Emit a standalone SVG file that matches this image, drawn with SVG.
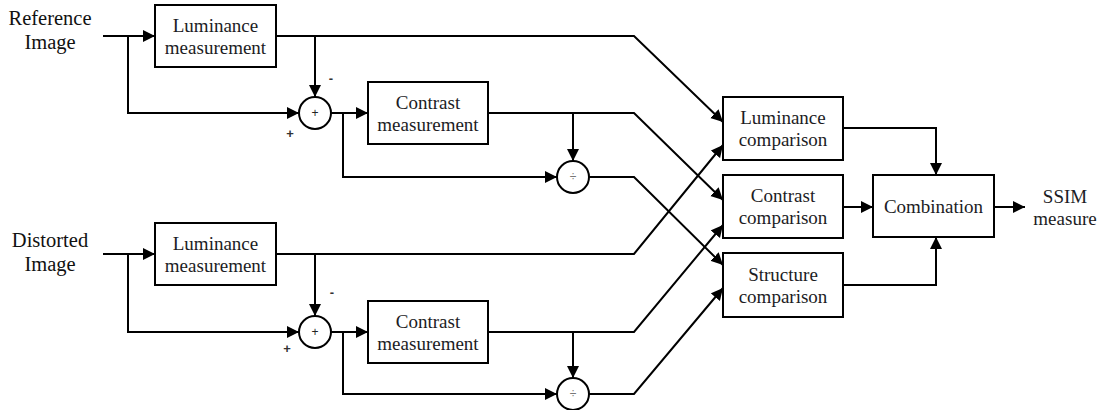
<svg xmlns="http://www.w3.org/2000/svg" width="1114" height="410" viewBox="0 0 1114 410">
  <style>
    .box { fill: #ffffff; stroke: #000000; stroke-width: 2; }
    .op { fill: #ffffff; stroke: #000000; stroke-width: 2; }
    .wire { fill: none; stroke: #000000; stroke-width: 2; }
    .arr { marker-end: url(#head); }
    .t { font-family: "Liberation Serif", "Times New Roman", serif; font-size: 19px; fill: #1c1c24; text-anchor: middle; }
    .lbl { font-family: "Liberation Serif", "Times New Roman", serif; font-size: 20.5px; fill: #111111; text-anchor: middle; }
    .sym { font-family: "Liberation Sans", Arial, sans-serif; font-size: 12px; fill: #222222; text-anchor: middle; }
    .div { font-family: "Liberation Sans", Arial, sans-serif; font-size: 12px; fill: #777777; text-anchor: middle; }
    .sign { font-family: "Liberation Sans", Arial, sans-serif; font-size: 13px; font-weight: bold; fill: #333333; text-anchor: middle; }
  </style>
  <defs>
    <marker id="head" markerUnits="userSpaceOnUse" markerWidth="13" markerHeight="13" refX="12" refY="6" orient="auto">
      <path d="M0,0 L12,6 L0,12 Z" fill="#000000"/>
    </marker>
  </defs>
  <rect width="1114" height="410" fill="#ffffff"/>

  <!-- connectors -->
  <g id="connectors">
    <!-- reference image path -->
    <polyline class="wire arr" points="103,36 155,36"/>
    <polyline class="wire arr" points="128,36 128,113 299,113"/>
    <polyline class="wire arr" points="315,36 315,97"/>
    <polyline class="wire arr" points="331,113 368,113"/>
    <polyline class="wire arr" points="343,113 343,177 557,177"/>
    <polyline class="wire arr" points="573,113 573,161"/>
    <polyline class="wire arr" points="276,36 634,36 723,122"/>
    <polyline class="wire arr" points="488,113 634,113 723,200"/>
    <polyline class="wire arr" points="589,177 634,177 723,265"/>
    <!-- distorted image path -->
    <polyline class="wire arr" points="103,254 155,254"/>
    <polyline class="wire arr" points="128,254 128,332 299,332"/>
    <polyline class="wire arr" points="315,254 315,316"/>
    <polyline class="wire arr" points="331,332 368,332"/>
    <polyline class="wire arr" points="343,332 343,394 557,394"/>
    <polyline class="wire arr" points="573,332 573,378"/>
    <polyline class="wire arr" points="276,254 634,254 723,145"/>
    <polyline class="wire arr" points="488,332 634,332 723,225"/>
    <polyline class="wire arr" points="589,394 634,394 723,288"/>
    <!-- comparisons to combination -->
    <polyline class="wire arr" points="843,128 936,128 936,175"/>
    <polyline class="wire arr" points="843,207 873,207"/>
    <polyline class="wire arr" points="843,285 936,285 936,237"/>
    <polyline class="wire arr" points="994,207 1025,207"/>
  </g>

  <!-- input / output labels -->
  <g id="label-reference">
    <text class="lbl" x="50" y="25">Reference</text>
    <text class="lbl" x="50" y="49">Image</text>
  </g>
  <g id="label-distorted">
    <text class="lbl" x="50" y="247">Distorted</text>
    <text class="lbl" x="50" y="271">Image</text>
  </g>
  <g id="label-ssim">
    <text class="t" x="1065" y="203">SSIM</text>
    <text class="t" x="1065" y="225">measure</text>
  </g>

  <!-- reference branch -->
  <g id="ref-luminance">
    <rect class="box" x="155" y="5" width="121" height="62"/>
    <text class="t" x="215.5" y="32">Luminance</text>
    <text class="t" x="215.5" y="54">measurement</text>
  </g>
  <g id="ref-sum">
    <circle class="op" cx="315" cy="113" r="16"/>
    <text class="sym" x="315" y="117">+</text>
    <text class="sign" x="331" y="83">-</text>
    <text class="sign" x="290" y="138">+</text>
  </g>
  <g id="ref-contrast">
    <rect class="box" x="368" y="82" width="120" height="62"/>
    <text class="t" x="428" y="109">Contrast</text>
    <text class="t" x="428" y="131">measurement</text>
  </g>
  <g id="ref-divide">
    <circle class="op" cx="573" cy="177" r="16"/>
    <text class="div" x="573" y="181">÷</text>
  </g>

  <!-- distorted branch -->
  <g id="dist-luminance">
    <rect class="box" x="155" y="223" width="121" height="62"/>
    <text class="t" x="215.5" y="250">Luminance</text>
    <text class="t" x="215.5" y="272">measurement</text>
  </g>
  <g id="dist-sum">
    <circle class="op" cx="315" cy="332" r="16"/>
    <text class="sym" x="315" y="336">+</text>
    <text class="sign" x="332" y="297">-</text>
    <text class="sign" x="287" y="353">+</text>
  </g>
  <g id="dist-contrast">
    <rect class="box" x="368" y="301" width="120" height="62"/>
    <text class="t" x="428" y="328">Contrast</text>
    <text class="t" x="428" y="350">measurement</text>
  </g>
  <g id="dist-divide">
    <circle class="op" cx="573" cy="394" r="16"/>
    <text class="div" x="573" y="398">÷</text>
  </g>

  <!-- comparisons -->
  <g id="luminance-comparison">
    <rect class="box" x="723" y="97" width="120" height="63"/>
    <text class="t" x="783" y="124">Luminance</text>
    <text class="t" x="783" y="146">comparison</text>
  </g>
  <g id="contrast-comparison">
    <rect class="box" x="723" y="175" width="120" height="63"/>
    <text class="t" x="783" y="202">Contrast</text>
    <text class="t" x="783" y="224">comparison</text>
  </g>
  <g id="structure-comparison">
    <rect class="box" x="723" y="253" width="120" height="64"/>
    <text class="t" x="783" y="281">Structure</text>
    <text class="t" x="783" y="303">comparison</text>
  </g>
  <g id="combination">
    <rect class="box" x="873" y="175" width="121" height="62"/>
    <text class="t" x="933.5" y="213">Combination</text>
  </g>
</svg>
